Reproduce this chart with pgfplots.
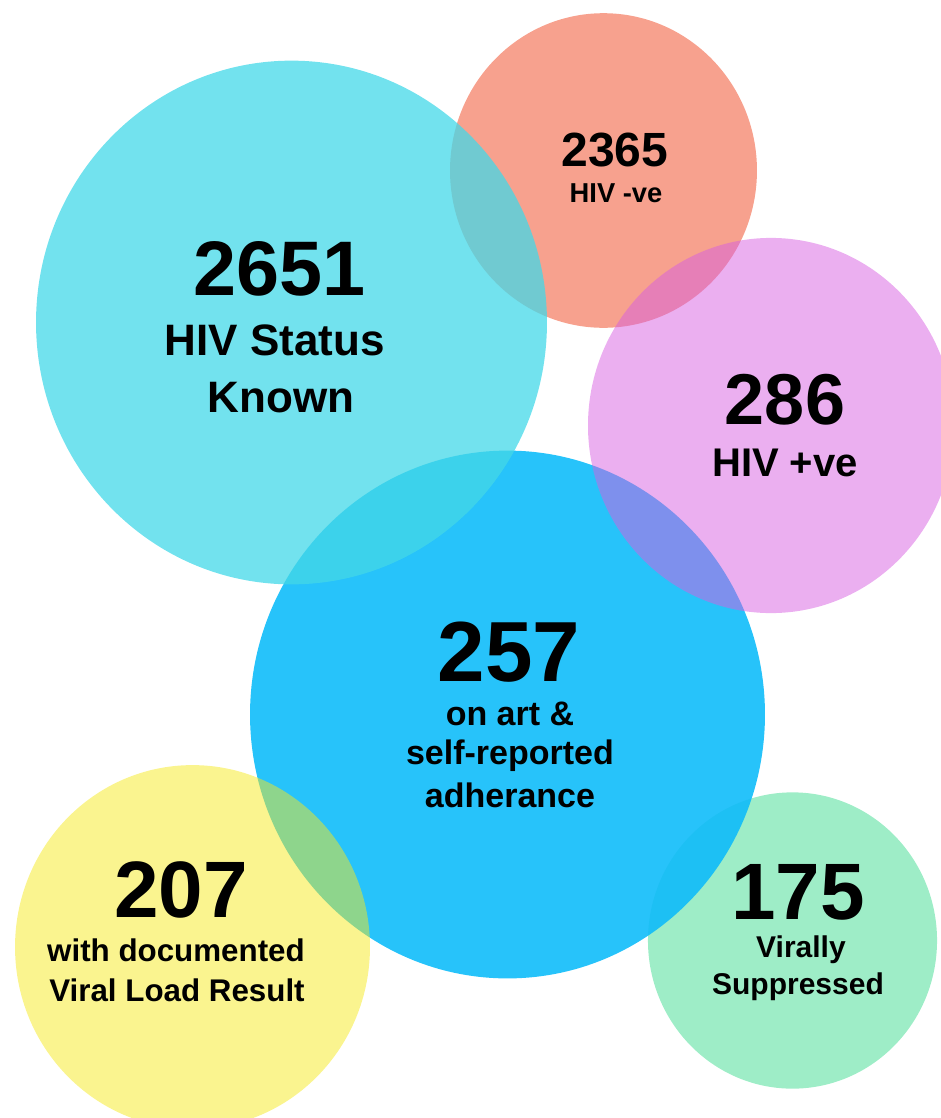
\documentclass[border=0pt]{standalone}
\usepackage{pgfplots}
\pgfplotsset{compat=1.18}
\usepackage{fontspec}
\setmainfont{Liberation Sans}
\definecolor{cGreen}{RGB}{158,237,199}
\definecolor{cBlue}{RGB}{16,188,249}
\definecolor{cSalmon}{RGB}{247,161,142}
\definecolor{cCyan}{RGB}{67,216,232}
\definecolor{cPink}{RGB}{215,95,225}
\definecolor{cYellow}{RGB}{245,233,31}
\newcommand{\fs}[1]{\fontsize{#1}{#1}\selectfont\bfseries}
\begin{document}
\begin{tikzpicture}
\begin{axis}[
  width=705pt, height=838.5pt, scale only axis,
  xmin=0, xmax=940, ymin=0, ymax=1118, y dir=reverse,
  hide axis, clip=true,
]
% bubbles: centre (x,y), radius in px -> mark size = r*0.75pt
\addplot[only marks, mark=*, color=cGreen, mark size=108.4pt,
  mark options={fill=cGreen, draw opacity=0, yscale=1.025}] coordinates {(792.5,940.5)};
\addplot[only marks, mark=*, color=cBlue, mark size=193.1pt,
  mark options={fill=cBlue, fill opacity=0.9, draw opacity=0, yscale=1.025}] coordinates {(507.5,714.5)};
\addplot[only marks, mark=*, color=cSalmon, mark size=115.1pt,
  mark options={fill=cSalmon, draw opacity=0, yscale=1.025}] coordinates {(603.5,170.5)};
\addplot[only marks, mark=*, color=cCyan, mark size=191.6pt,
  mark options={fill=cCyan, fill opacity=0.75, draw opacity=0, yscale=1.025}] coordinates {(291.5,322.5)};
\addplot[only marks, mark=*, color=cPink, mark size=137.25pt,
  mark options={fill=cPink, fill opacity=0.5, draw opacity=0, yscale=1.025}] coordinates {(771,425.5)};
\addplot[only marks, mark=*, color=cYellow, mark size=133.1pt,
  mark options={fill=cYellow, fill opacity=0.5, draw opacity=0, yscale=1.025}] coordinates {(192.5,947)};

% label anchors (baselines)
\coordinate (a1) at (axis cs:280,296);
\coordinate (a2) at (axis cs:275,356);
\coordinate (a3) at (axis cs:281,413);
\coordinate (b1) at (axis cs:615,167);
\coordinate (b2) at (axis cs:616,203);
\coordinate (c1) at (axis cs:785,425);
\coordinate (c2) at (axis cs:785,477);
\coordinate (d1) at (axis cs:509,682);
\coordinate (d2) at (axis cs:510,726);
\coordinate (d3) at (axis cs:510,765);
\coordinate (d4) at (axis cs:510,808);
\coordinate (e1) at (axis cs:181,918);
\coordinate (e2) at (axis cs:176,962);
\coordinate (e3) at (axis cs:177,1002);
\coordinate (f1) at (axis cs:798,920);
\coordinate (f2) at (axis cs:801,958);
\coordinate (f3) at (axis cs:798,995);
\end{axis}
\begin{scope}[every node/.style={anchor=base, inner sep=0pt, outer sep=0pt}]
\node at (a1) {\fs{58}2651};
\node at (a2) {\fs{33}HIV Status};
\node at (a3) {\fs{33}Known};
\node at (b1) {\fs{36}2365};
\node at (b2) {\fs{20.5}HIV -ve};
\node at (c1) {\fs{54}286};
\node at (c2) {\fs{30}HIV +ve};
\node at (d1) {\fs{64}257};
\node at (d2) {\fs{25.5}on art \&};
\node at (d3) {\fs{25.5}self-reported};
\node at (d4) {\fs{25.5}adherance};
\node at (e1) {\fs{60}207};
\node at (e2) {\fs{23.5}with documented};
\node at (e3) {\fs{23.5}Viral Load Result};
\node at (f1) {\fs{60}175};
\node at (f2) {\fs{22.5}Virally};
\node at (f3) {\fs{22.5}Suppressed};
\end{scope}
\pgfresetboundingbox
\path (current axis.south west) rectangle (current axis.north east);
\end{tikzpicture}
\end{document}
